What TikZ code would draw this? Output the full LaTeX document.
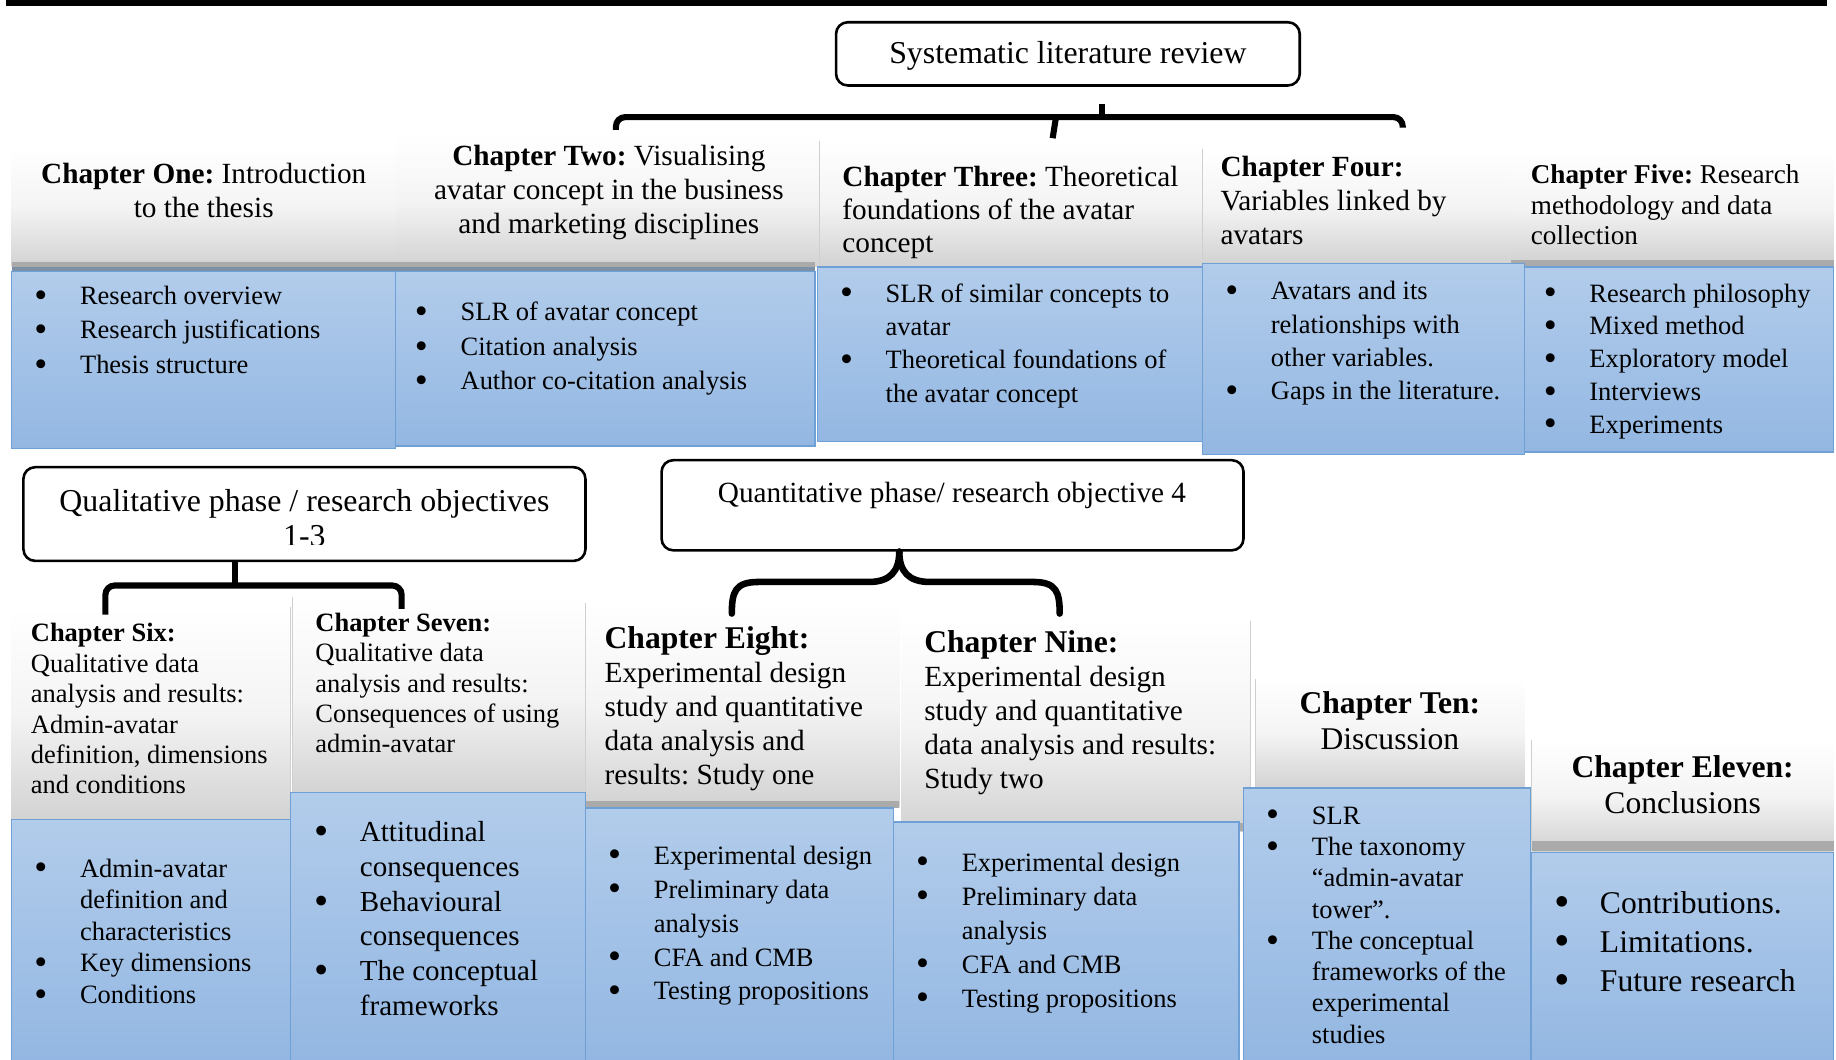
\documentclass[tikz,border=0pt]{standalone}
\usepackage{fontspec}
\setmainfont{Liberation Serif}
\frenchspacing
\definecolor{blutop}{HTML}{B2CCEB}
\definecolor{blubot}{HTML}{93B7E2}
\definecolor{bluedge}{HTML}{6E9FD5}
\definecolor{hdrbot}{HTML}{D2D2D2}
\definecolor{hdrmid}{HTML}{F4F4F4}
\definecolor{stripgray}{HTML}{AAAAAA}
\definecolor{slate}{HTML}{7C90A6}
\definecolor{sepgray}{HTML}{CFCFCF}
\newcommand\fs[2]{\fontsize{#1}{#2}\selectfont}
% line break that keeps the hanging indent of the current item
\newcommand\nl{\hfil\break}
% one bullet item with hanging indent
\newcommand\bitem[1]{\par\noindent\hangindent=17.5pt\hangafter=1%
  \makebox[17.5pt][l]{\kern-2pt\raisebox{-0.1em}{\scalebox{1.4}{\textbullet}}}#1}
\begin{document}
\begin{tikzpicture}[x=0.5pt,y=-0.5pt,
  hdr/.style={top color=white, bottom color=hdrbot, middle color=hdrmid},
  blu/.style={top color=blutop, bottom color=blubot, draw=bluedge, line width=0.6pt},
  strip/.style={fill=stripgray},
  slatestrip/.style={fill=slate},
  sep/.style={draw=sepgray, line width=0.5pt},
  rbox/.style={draw, line width=1.1pt, rounded corners=5pt, fill=white, inner sep=0pt},
  brk/.style={line width=2.6pt, rounded corners=4pt},
  txt/.style={inner sep=0pt, anchor=base west},
  ctxt/.style={inner sep=0pt, anchor=base},
]
\useasboundingbox (0,0) rectangle (1568,905);
\fill[white] (0,0) rectangle (1568,905);

% top rule
\fill (5,0) rectangle (1560,5.5);

% ---------- upper row: headers ----------
\shade[hdr] (10,125) rectangle (338,228);
\shade[hdr] (338,115) rectangle (700,228);
\shade[hdr] (700,120) rectangle (1027,228);
\shade[hdr] (1027,127) rectangle (1290,225);
\shade[hdr] (1290,130) rectangle (1566,224);
\fill[strip] (10,224) rectangle (696,228);
\fill[slatestrip] (10,228) rectangle (696,232);
\fill[strip] (1290,222) rectangle (1566,228);
\draw[sep] (700,120) -- (700,228);
\draw[sep] (1027,127) -- (1027,225);

% ---------- upper row: blue boxes ----------
\shade[blu] (10,232) rectangle (338,383);
\shade[blu] (338,232) rectangle (696,381);
\shade[blu] (698,228) rectangle (1027,377);
\shade[blu] (1027,225) rectangle (1302,388);
\shade[blu] (1302,228) rectangle (1566,386);

% ---------- lower row: headers ----------
\shade[hdr] (10,518) rectangle (248,700);
\shade[hdr] (250,510) rectangle (500,680);
\shade[hdr] (500,515) rectangle (768,690);
\fill[strip] (500,684) rectangle (768,690);
\shade[hdr] (770,530) rectangle (1068,710);
\fill[strip] (770,703) rectangle (1068,710);
\shade[hdr] (1072,580) rectangle (1302,673);
\shade[hdr] (1308,632) rectangle (1566,727);
\fill[strip] (1308,718) rectangle (1566,727);
\draw[sep] (248,518) -- (248,700);
\draw[sep] (250,510) -- (250,680);
\draw[sep] (500,515) -- (500,690);
\draw[sep] (1068,530) -- (1068,703);
\draw[sep] (1072,580) -- (1072,673);
\draw[sep] (1308,632) -- (1308,718);

% ---------- lower row: blue boxes ----------
\shade[blu] (10,700) rectangle (248,907);
\shade[blu] (248,677) rectangle (500,907);
\shade[blu] (500,690) rectangle (763,907);
\shade[blu] (763,702) rectangle (1058,907);
\shade[blu] (1062,673) rectangle (1307,907);
\shade[blu] (1308,728) rectangle (1566,907);

% ---------- rounded phase boxes ----------
\node[rbox, minimum width=198pt, minimum height=27pt] (slr) at (912,46) {};
\node[ctxt] (slrtxt) at (912,54) {\fs{13.6}{15}Systematic literature review};
\node[rbox, minimum width=240pt, minimum height=40pt] (qual) at (260,439) {};
\node[rbox, minimum width=248.5pt, minimum height=38.5pt] (quant) at (813.5,431.5) {};
\begin{scope}
  \clip (22,401) rectangle (498,465);
  \node[ctxt] (qualtxt) at (260,437)
    {\parbox[t]{260pt}{\centering\fs{13.6}{15}Qualitative phase / research objectives\\1-3}};
\end{scope}
\node[ctxt] (quanttxt) at (813,429) {\fs{12.5}{14}Quantitative phase/ research objective 4};

% ---------- brackets ----------
\coordinate (slrstem) at ([xshift=14.5pt,yshift=-7.5pt]slr.south);
\coordinate (slrbar) at (941,100);
\draw[brk] (526,111) -- (526,100) -- (1198,100) -- (1198,109);
\draw[line width=2.6pt] (slrstem) -- (slrbar);
\draw[line width=2.6pt] (902,99) -- (899,118);

\coordinate (qualstem) at ([xshift=-29.5pt]qual.south);
\draw[line width=2.6pt] (qualstem) -- (201,501);
\draw[brk] (90,525) -- (90,500) -- (343,500) -- (343,520);

\coordinate (quanttip) at ([xshift=-22.75pt]quant.south);
\draw[line width=2.8pt, line cap=round] (625,524) .. controls (625,505) and (628,497) .. (648,497)
  -- (742,497) .. controls (760,497) and (768,488) .. (quanttip);
\draw[line width=2.8pt, line cap=round] (905,524) .. controls (905,505) and (902,497) .. (882,497)
  -- (794,497) .. controls (776,497) and (768,488) .. (quanttip);

% ---------- upper row: header texts ----------
\node[ctxt] (h1) at (174,157) {\parbox[t]{170pt}{\centering\fs{12.5}{14.5}%
  \textbf{Chapter One:} Introduction\\to the thesis}};
\node[ctxt] (h2) at (520,141) {\parbox[t]{180pt}{\centering\fs{12.5}{14.5}%
  \textbf{Chapter Two:} Visualising\\avatar concept in the business\\and marketing disciplines}};
\node[txt] (h3) at (719,159) {\parbox[t]{170pt}{\raggedright\fs{12.5}{14.25}%
  \textbf{Chapter Three:} Theoretical\\foundations of the avatar\\concept}};
\node[txt] (h4) at (1042,151) {\parbox[t]{140pt}{\raggedright\fs{12.5}{14.5}%
  \textbf{Chapter Four:}\\Variables linked by\\avatars}};
\node[txt] (h5) at (1307,157) {\parbox[t]{140pt}{\raggedright\fs{11.6}{13}%
  \textbf{Chapter Five:} Research\\methodology and data\\collection}};

% ---------- upper row: bullet lists ----------
\node[txt] (l1) at (33,260) {\parbox[t]{170pt}{\raggedright\fs{11.3}{14.75}%
  \bitem{Research overview}\bitem{Research justifications}\bitem{Thesis structure}}};
\node[txt] (l2) at (358,274) {\parbox[t]{170pt}{\raggedright\fs{11.3}{14.75}%
  \bitem{SLR of avatar concept}\bitem{Citation analysis}\bitem{Author co-citation analysis}}};
\node[txt] (l3) at (721,258) {\parbox[t]{170pt}{\raggedright\fs{11.3}{14.25}%
  \bitem{SLR of similar concepts to\nl avatar}\bitem{Theoretical foundations of\nl the avatar concept}}};
\node[txt] (l4) at (1050,256) {\parbox[t]{150pt}{\raggedright\fs{11.3}{14.2}%
  \bitem{Avatars and its\nl relationships with\nl other variables.}\bitem{Gaps in the literature.}}};
\node[txt] (l5) at (1322,258) {\parbox[t]{150pt}{\raggedright\fs{11.3}{14}%
  \bitem{Research philosophy}\bitem{Mixed method}\bitem{Exploratory model}\bitem{Interviews}\bitem{Experiments}}};

% ---------- lower row: header texts ----------
\node[txt] (h6) at (26,548) {\parbox[t]{130pt}{\raggedright\fs{11.3}{13}%
  \textbf{Chapter Six:}\\Qualitative data\\analysis and results:\\Admin-avatar\\definition, dimensions\\and conditions}};
\node[txt] (h7) at (269,539) {\parbox[t]{130pt}{\raggedright\fs{11.3}{13}%
  \textbf{Chapter Seven:}\\Qualitative data\\analysis and results:\\Consequences of using\\admin-avatar}};
\node[txt] (h8) at (516,554) {\parbox[t]{140pt}{\raggedright\fs{12.5}{14.5}%
  \textbf{\fs{13.5}{14.5}Chapter Eight:}\\Experimental design\\study and quantitative\\data analysis and\\results: Study one}};
\node[txt] (h9) at (789,557) {\parbox[t]{150pt}{\raggedright\fs{12.5}{14.5}%
  \textbf{\fs{13.5}{14.5}Chapter Nine:}\\Experimental design\\study and quantitative\\data analysis and results:\\Study two}};
\node[ctxt] (h10) at (1187,609) {\parbox[t]{120pt}{\centering\fs{13.5}{15.5}%
  \textbf{Chapter Ten:}\\Discussion}};
\node[ctxt] (h11) at (1437,664) {\parbox[t]{130pt}{\centering\fs{13.5}{15.5}%
  \textbf{Chapter Eleven:}\\Conclusions}};

% ---------- lower row: bullet lists ----------
\node[txt] (l6) at (33,749) {\parbox[t]{120pt}{\raggedright\fs{11.3}{13.5}%
  \bitem{Admin-avatar\nl definition and\nl characteristics}\bitem{Key dimensions}\bitem{Conditions}}};
\node[txt] (l7) at (272,719) {\parbox[t]{120pt}{\raggedright\fs{12.4}{14.8}%
  \bitem{Attitudinal\nl consequences}\bitem{Behavioural\nl consequences}\bitem{The conceptual\nl frameworks}}};
\node[txt] (l8) at (523,738) {\parbox[t]{130pt}{\raggedright\fs{11.3}{14.5}%
  \bitem{Experimental design}\bitem{Preliminary data\nl analysis}\bitem{CFA and CMB}\bitem{Testing propositions}}};
\node[txt] (l9) at (786,744) {\parbox[t]{140pt}{\raggedright\fs{11.3}{14.5}%
  \bitem{Experimental design}\bitem{Preliminary data\nl analysis}\bitem{CFA and CMB}\bitem{Testing propositions}}};
\node[txt] (l10) at (1085,704) {\parbox[t]{120pt}{\raggedright\fs{11.3}{13.35}%
  \bitem{SLR}\bitem{The taxonomy\nl ``admin-avatar\nl tower''.}\bitem{The conceptual\nl frameworks of the\nl experimental\nl studies}}};
\node[txt] (l11) at (1331,780) {\parbox[t]{130pt}{\raggedright\fs{13.5}{16.75}%
  \bitem{Contributions.}\bitem{Limitations.}\bitem{Future research}}};
\end{tikzpicture}
\end{document}
